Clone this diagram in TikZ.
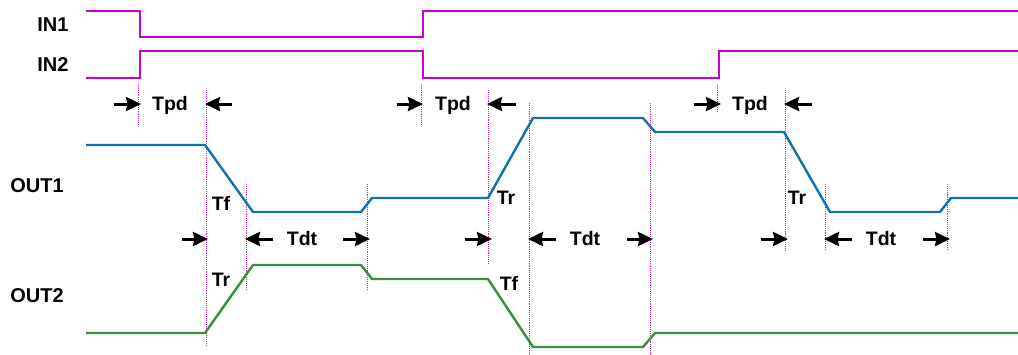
\documentclass[tikz,border=0pt]{standalone}
\usepackage{fontspec}
\setmainfont{Liberation Sans}
\usetikzlibrary{arrows.meta}
\definecolor{inmag}{RGB}{204,0,204}
\definecolor{outblue}{RGB}{16,114,178}
\definecolor{outgreen}{RGB}{56,142,62}
\definecolor{guide}{RGB}{214,40,170}
\tikzset{
  inwave/.style={draw=inmag, line width=2.2pt, line join=miter},
  bluewave/.style={draw=outblue, line width=2.4pt, line join=round},
  greenwave/.style={draw=outgreen, line width=2.4pt, line join=round},
  guideline/.style={draw=guide, line width=0.9pt, densely dotted},
  dimarrow/.style={draw=black, line width=3pt, -{Stealth[length=15pt,width=14pt,inset=1.5pt]}},
  siglabel/.style={font=\fontsize{20}{22}\selectfont\bfseries, anchor=base, inner sep=0pt},
  tlabel/.style={font=\fontsize{19.5}{21}\selectfont\bfseries, anchor=base, inner sep=0pt}
}
\begin{document}
\begin{tikzpicture}[x=1pt,y=-1pt]
\useasboundingbox[fill=white] (0,0) rectangle (1018,354);
% signal names
\node[siglabel] (lin1) at (53,31) {IN1};
\node[siglabel] (lin2) at (53,71) {IN2};
\node[siglabel] (lout1) at (37,192) {OUT1};
\node[siglabel] (lout2) at (37,302) {OUT2};
% guide lines
\draw[guideline] (138,84) -- (138,124);
\draw[guideline] (206,90) -- (206,345);
\draw[guideline] (246,184) -- (246,290);
\draw[guideline] (367,184) -- (367,290);
\draw[guideline] (421,84) -- (421,124);
\draw[guideline] (488,90) -- (488,264);
\draw[guideline] (529,103) -- (529,354);
\draw[guideline] (650,103) -- (650,354);
\draw[guideline] (717,84) -- (717,112);
\draw[guideline] (785,90) -- (785,250);
\draw[guideline] (825,184) -- (825,250);
\draw[guideline] (947,184) -- (947,250);
% waveforms
\draw[inwave] (86,11) -- (140,11) -- (140,37) -- (423,37) -- (423,11) -- (1018,11);
\draw[inwave] (86,78) -- (140,78) -- (140,51) -- (423,51) -- (423,78) -- (719,78) -- (719,51) -- (1018,51);
\draw[bluewave] (86,145) -- (205,145) -- (253,212) -- (361,212) -- (372,198) -- (488,198) -- (533,118) -- (643,118) -- (655,132) -- (784,132) -- (830,212) -- (940,212) -- (951,198) -- (1018,198);
\draw[greenwave] (86,333) -- (205,333) -- (253,265) -- (361,265) -- (372,279) -- (488,279) -- (533,347) -- (643,347) -- (655,333) -- (1018,333);
% Tpd dimensions
\draw[dimarrow] (114,104) -- (141,104);
\draw[dimarrow] (232,104) -- (205,104);
\node[tlabel] (tpd1) at (170,110) {Tpd};
\draw[dimarrow] (397,104) -- (423,104);
\draw[dimarrow] (516,104) -- (487,104);
\node[tlabel] (tpd2) at (453,110) {Tpd};
\draw[dimarrow] (694,104) -- (721,104);
\draw[dimarrow] (812,104) -- (784,104);
\node[tlabel] (tpd3) at (750,110) {Tpd};
% Tdt dimensions
\draw[dimarrow] (182,239) -- (208,239);
\draw[dimarrow] (273,239) -- (245,239);
\node[tlabel] (tdt1) at (302,245) {Tdt};
\draw[dimarrow] (343,239) -- (370,239);
\draw[dimarrow] (465,239) -- (492,239);
\draw[dimarrow] (556,239) -- (528,239);
\node[tlabel] (tdt2) at (585,245) {Tdt};
\draw[dimarrow] (627,239) -- (653,239);
\draw[dimarrow] (761,239) -- (788,239);
\draw[dimarrow] (852,239) -- (824,239);
\node[tlabel] (tdt3) at (881,245) {Tdt};
\draw[dimarrow] (923,239) -- (950,239);
% rise / fall labels
\node[tlabel] (tf1) at (221,210) {Tf};
\node[tlabel] (tr1) at (221,286) {Tr};
\node[tlabel] (tr2) at (506,204) {Tr};
\node[tlabel] (tf2) at (509,290) {Tf};
\node[tlabel] (tr3) at (797,204) {Tr};
\end{tikzpicture}
\end{document}
